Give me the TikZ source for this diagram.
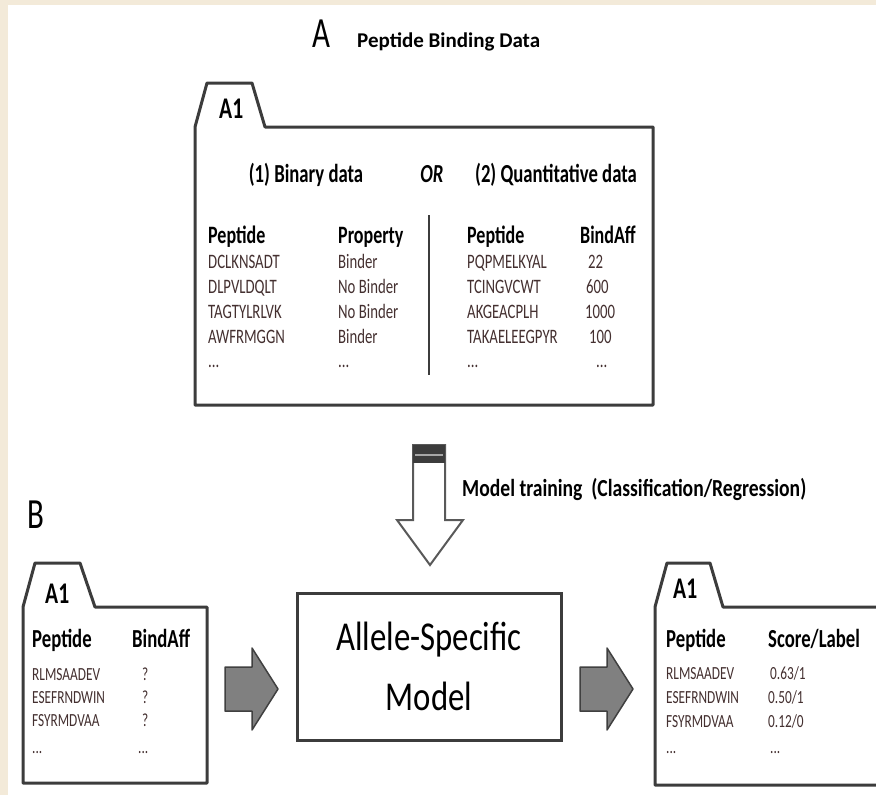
\documentclass[tikz,border=0pt]{standalone}
\usepackage{fontspec}
\usepackage{tikz}
\usepackage{xcolor}
\setmainfont{Carlito}
\newfontfamily\condfont{Carlito}[FakeStretch=0.72]
\newfontfamily\midfont{Carlito}[FakeStretch=0.80]
\definecolor{bgbeige}{RGB}{243,234,217}
\definecolor{edge}{RGB}{60,60,60}
\definecolor{rowtxt}{RGB}{68,48,48}
\definecolor{arrgray}{RGB}{128,128,128}
\definecolor{arredge}{RGB}{64,64,64}

\begin{document}
\begin{tikzpicture}[
    x=1pt,y=-1pt,
    folder/.style={draw=edge,line width=3pt,fill=white,line join=round},
    tabtxt/.style={anchor=base west,inner sep=0,font=\condfont\bfseries\fontsize{30}{34}\selectfont},
    hdr/.style={anchor=base west,inner sep=0,font=\condfont\bfseries\fontsize{25}{28}\selectfont},
    hdrs/.style={hdr,font=\condfont\bfseries\fontsize{26}{29}\selectfont},
    row/.style={anchor=base west,inner sep=0,text=rowtxt,font=\condfont\fontsize{20.5}{23}\selectfont},
    rows/.style={row,font=\condfont\fontsize{18.5}{21}\selectfont},
    big/.style={anchor=base west,inner sep=0,font=\condfont\fontsize{43}{47}\selectfont},
    blockarr/.style={fill=arrgray,draw=arredge,line width=1.5pt,line join=round}
]
\useasboundingbox (0,0) rectangle (876,795);
\clip (0,0) rectangle (876,795);
\fill[bgbeige] (0,0) rectangle (876,795);
\fill[white] (8,5) rectangle (876,795);

% part A
\node[big] (lblA) at (312,47) {A};
\node[anchor=base west,inner sep=0,font=\bfseries\fontsize{21}{24}\selectfont] (title) at (357,47) {Peptide Binding Data};

\draw[folder] (195,127) -- (207,83) -- (252,83) -- (265,127) -- (653,127)
  -- (653,405) -- (195,405) -- cycle;
\node[tabtxt] (tabA) at (219,118) {A1};

\node[hdrs,anchor=base] (bin) at (306,182) {(1) Binary data};
\node[hdrs,anchor=base,font=\condfont\bfseries\itshape\fontsize{26}{29}\selectfont] (or) at (432,182) {OR};
\node[hdrs,anchor=base] (quant) at (556,182) {(2) Quantitative data};

\draw[draw=edge,line width=2.5pt] (429,215) -- (429,375);

\node[hdr] (pepA) at (208,243) {Peptide};
\node[hdr] (prop) at (338,243) {Property};
\node[row] at (208,268) {DCLKNSADT};
\node[row] at (208,293) {DLPVLDQLT};
\node[row] at (208,318) {TAGTYLRLVK};
\node[row] at (208,343) {AWFRMGGN};
\node[row] at (208,367) {...};
\node[row] at (338,268) {Binder};
\node[row] at (338,293) {No Binder};
\node[row] at (338,318) {No Binder};
\node[row] at (338,343) {Binder};
\node[row] at (338,367) {...};

\node[hdr] (pepQ) at (467,243) {Peptide};
\node[hdr] (affQ) at (580,243) {BindAff};
\node[row] at (467,268) {PQPMELKYAL};
\node[row] at (467,293) {TCINGVCWT};
\node[row] at (467,318) {AKGEACPLH};
\node[row] at (467,343) {TAKAELEEGPYR};
\node[row] at (467,367) {...};
\node[row] at (588,268) {22};
\node[row] at (586,293) {600};
\node[row] at (585,318) {1000};
\node[row] at (589,343) {100};
\node[row] at (596,367) {...};

% training arrow
\draw[draw=edge!85,line width=2pt,fill=white,line join=miter] (413,445) -- (445,445) -- (445,520)
  -- (463,520) -- (430,565) -- (397,520) -- (413,520) -- cycle;
\fill[edge] (413,445) rectangle (445,463);
\draw[gray!70,line width=1.5pt] (415,455) -- (443,455);
\node[anchor=base west,inner sep=0,font=\midfont\bfseries\fontsize{24.5}{28}\selectfont] (train) at (462,496)
  {Model training\ \ (Classification/Regression)};

% part B
\node[big] (lblB) at (27,528) {B};

\draw[folder] (23,607) -- (35,563) -- (80,563) -- (95,607) -- (207,607)
  -- (207,783) -- (23,783) -- cycle;
\node[tabtxt] (tabIn) at (45,603) {A1};
\node[hdrs] (pepIn) at (32,647) {Peptide};
\node[hdrs] (affIn) at (132,647) {BindAff};
\node[rows] at (32,680) {RLMSAADEV};
\node[rows] at (32,703) {ESEFRNDWIN};
\node[rows] at (32,726) {FSYRMDVAA};
\node[rows] at (32,753) {...};
\node[rows] at (142,680) {?};
\node[rows] at (142,703) {?};
\node[rows] at (142,726) {?};
\node[rows] at (138,753) {...};

\draw[blockarr] (225,667) -- (252,667) -- (252,648) -- (278,689) -- (252,730)
  -- (252,711) -- (225,711) -- cycle;

\node[draw=edge,line width=3pt,minimum width=264,minimum height=147,align=center,
  font=\midfont\fontsize{41}{60}\selectfont] (model) at (429,666.5) {Allele-Specific\\Model};

\draw[blockarr] (580,667) -- (607,667) -- (607,648) -- (633,689) -- (607,730)
  -- (607,711) -- (580,711) -- cycle;

\draw[folder] (655,607) -- (667,563) -- (710,563) -- (723,607) -- (884,607)
  -- (884,785) -- (655,785) -- cycle;
\node[tabtxt] (tabOut) at (673,598) {A1};
\node[hdrs] (pepOut) at (666,647) {Peptide};
\node[hdrs] (score) at (768,647) {Score/Label};
\node[rows] at (666,679) {RLMSAADEV};
\node[rows] at (666,703) {ESEFRNDWIN};
\node[rows] at (666,727) {FSYRMDVAA};
\node[rows] at (666,753) {...};
\node[rows] at (770,679) {0.63/1};
\node[rows] at (768,703) {0.50/1};
\node[rows] at (768,727) {0.12/0};
\node[rows] at (770,753) {...};
\end{tikzpicture}
\end{document}
